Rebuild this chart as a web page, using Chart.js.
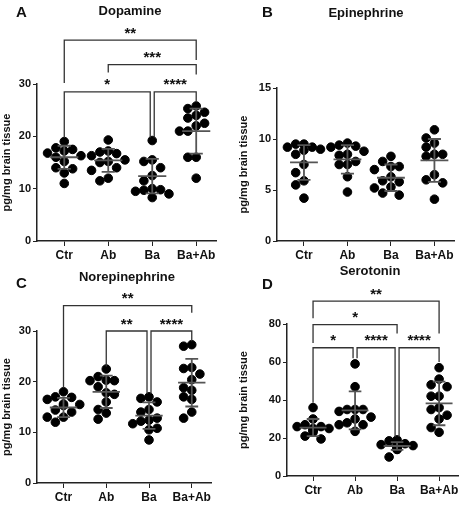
<!DOCTYPE html>
<html>
<head>
<meta charset="utf-8">
<script src="https://cdn.jsdelivr.net/npm/chart.js@4.4.0/dist/chart.umd.min.js"></script>
<style>
  body { margin: 0; background: #fff; font-family: "Liberation Sans", Arial, sans-serif; }
  #wrap { position: relative; width: 474px; height: 508px; }
  canvas { position: absolute; }
  .lbl { position: absolute; font-weight: bold; color: #111; white-space: nowrap; }
  .letter { font-size: 15px; }
  .title { font-size: 13px; transform: translateX(-50%); }
</style>
</head>
<body>
<div id="wrap">
  <canvas id="cA" style="left:0;top:0" width="237" height="266"></canvas>
  <canvas id="cB" style="left:237px;top:0" width="237" height="266"></canvas>
  <canvas id="cC" style="left:0;top:266px" width="237" height="242"></canvas>
  <canvas id="cD" style="left:237px;top:266px" width="237" height="242"></canvas>
  <div class="lbl letter" style="left:16px;top:3px">A</div>
  <div class="lbl title" style="left:130px;top:3px">Dopamine</div>
  <div class="lbl letter" style="left:262px;top:3px">B</div>
  <div class="lbl title" style="left:366px;top:5px">Epinephrine</div>
  <div class="lbl letter" style="left:16px;top:274px">C</div>
  <div class="lbl title" style="left:127px;top:269px">Norepinephrine</div>
  <div class="lbl letter" style="left:262px;top:275px">D</div>
  <div class="lbl title" style="left:370px;top:263px">Serotonin</div>
</div>
<script>
const groups = ["Ctr", "Ab", "Ba", "Ba+Ab"];

// Dopamine (A)
const dopCtr = [19, 17.8, 17.5, 17.2, 16.8, 16.3, 16, 15.2, 14, 13.8, 13, 11];
const dopAb = [19.3, 17.2, 17, 16.7, 16.3, 15.5, 15.2, 15, 14, 13.5, 12, 11.5];
const dopBa = [19.2, 15.5, 15.2, 14, 12.5, 11.5, 10, 9.8, 9.7, 9.5, 9, 8.3];
const dopBaAb = [25.8, 25.3, 24.6, 24, 23.5, 22.5, 22, 21, 21, 16, 16, 12];
const dopMean = [16, 15.4, 12.4, 21];
const dopSd = [2.2, 2.2, 3.3, 4.3];
// [from, to, y, leftEnd, rightEnd, label]
const dopSig = [[0, 3, 38.4, 30.2, 34.6, "**"], [1, 3, 33.7, 32.2, 31.8, "***"],
                [0, 2, 28.5, 19.8, 19.8, "*"], [2, 3, 28.5, 19.8, 26.5, "****"]];

// Epinephrine (B)
const epiCtr = [9.5, 9.5, 9.2, 9.2, 9.0, 8.9, 8.5, 7.5, 6.7, 5.9, 5.5, 4.2];
const epiAb = [9.6, 9.4, 9.3, 9.2, 8.8, 8.5, 8.4, 7.8, 7.5, 7.5, 6.3, 4.8];
const epiBa = [8.3, 7.8, 7.3, 7.3, 7.0, 6.3, 5.9, 5.8, 5.3, 5.2, 4.7, 4.5];
const epiBaAb = [10.9, 10.1, 9.6, 9.2, 8.5, 8.5, 8.3, 6.5, 6.0, 5.7, 4.1];
const epiMean = [7.7, 8.0, 6.2, 7.9];
const epiSd = [1.7, 1.4, 1.3, 2.1];
const epiSig = [];

// Norepinephrine (C)
const norCtr = [18, 17, 16.9, 16.5, 15.6, 15.5, 15.3, 14.4, 14, 13, 13, 12];
const norAb = [22.5, 21, 20.3, 20.2, 20.2, 19, 17.8, 17.5, 16, 14.5, 13.8, 12.6];
const norBa = [17, 16.7, 16, 14.5, 14, 12.8, 12.4, 12.2, 11.7, 10.8, 10.5, 8.5];
const norBaAb = [27.3, 27, 22.8, 22.6, 21.5, 20.4, 18.8, 18.3, 17, 16.5, 14, 12.8];
const norMean = [14.9, 18, 13.3, 19.8];
const norSd = [1.9, 3.2, 2.6, 4.7];
const norSig = [[0, 3, 35, 18.9, 33.6, "**"], [1, 2, 30, 23, 17.6, "**"], [2, 3, 30, 17.6, 28, "****"]];

// Serotonin (D)
const serCtr = [36, 30, 27, 26, 26, 25, 25, 24, 24, 23, 21, 19.5];
const serAb = [59, 47, 35, 35, 35, 34, 31, 30, 28, 27, 27, 23.5];
const serBa = [19, 18.5, 17, 16.5, 16, 16, 15.8, 15.5, 15, 14, 14, 10];
const serBaAb = [57, 51, 48, 47, 42, 42, 36, 35, 32, 30, 25.5, 23];
const serMean = [25.5, 34.5, 15.8, 38.2];
const serSd = [4.5, 10, 2, 11.5];
const serSig = [[0, 3, 92, 83, 75, "**"], [0, 2, 79.7, 70, 75, "*"], [0, 1, 67.5, 38.5, 62, "*"],
                [1, 2, 67.5, 62, 20.5, "****"], [2, 3, 67.5, 20.5, 60, "****"]];

const panels = [
  { id: "cA", sets: [dopCtr, dopAb, dopBa, dopBaAb], mean: dopMean, sd: dopSd, sig: dopSig,
    max: 30, step: 10, top: 84, bottom: 25, axisW: 37, right: 21 },
  { id: "cB", sets: [epiCtr, epiAb, epiBa, epiBaAb], mean: epiMean, sd: epiSd, sig: epiSig,
    max: 15, step: 5, top: 88, bottom: 25, axisW: 40, right: 20 },
  { id: "cC", sets: [norCtr, norAb, norBa, norBaAb], mean: norMean, sd: norSd, sig: norSig,
    max: 30, step: 10, top: 65, bottom: 25, axisW: 37, right: 26 },
  { id: "cD", sets: [serCtr, serAb, serBa, serBaAb], mean: serMean, sd: serSd, sig: serSig,
    max: 80, step: 20, top: 58, bottom: 32, axisW: 50, right: 16 }
];

/* simple beeswarm so close values sit side by side */
function swarm(values, max) {
  const thr = max * 0.058, step = 0.19;
  const placed = [];
  const cand = [0, -1, 1, -2, 2, -0.5, 0.5, -1.5, 1.5];
  return values.map(v => {
    for (const c of cand) {
      const ok = placed.every(p => Math.abs(p.v - v) > thr || Math.abs(p.c - c) >= 1);
      if (ok) { placed.push({ v, c }); return c * step; }
    }
    placed.push({ v, c: 0 });
    return 0;
  });
}

const overlay = {
  id: "overlay",
  afterDatasetsDraw(chart, args, opts) {
    const { ctx, scales: { x, y } } = chart;
    const p = opts.panel;
    ctx.save();
    // mean and SD
    ctx.strokeStyle = "#555";
    ctx.lineWidth = 1.8;
    p.mean.forEach((m, i) => {
      const cx = x.getPixelForValue(i);
      const hw = x.getPixelForValue(i + 0.32) - cx;
      const cw = x.getPixelForValue(i + 0.15) - cx;
      const ym = y.getPixelForValue(m), yh = y.getPixelForValue(m + p.sd[i]), yl = y.getPixelForValue(m - p.sd[i]);
      ctx.beginPath();
      ctx.moveTo(cx - hw, ym); ctx.lineTo(cx + hw, ym);
      ctx.moveTo(cx, yh); ctx.lineTo(cx, yl);
      ctx.moveTo(cx - cw, yh); ctx.lineTo(cx + cw, yh);
      ctx.moveTo(cx - cw, yl); ctx.lineTo(cx + cw, yl);
      ctx.stroke();
    });
    // significance brackets
    ctx.strokeStyle = "#333";
    ctx.lineWidth = 1.3;
    ctx.fillStyle = "#111";
    ctx.font = "bold 15px 'Liberation Sans', Arial";
    ctx.textAlign = "center";
    ctx.textBaseline = "bottom";
    p.sig.forEach(([a, b, yv, l, r, label]) => {
      const gap = 2;
      const xa = x.getPixelForValue(a) + (a > 0 && p.sig.some(s => s[1] === a && s[2] === yv) ? gap : 0);
      const xb = x.getPixelForValue(b) - (p.sig.some(s => s[0] === b && s[2] === yv) ? gap : 0);
      const yy = y.getPixelForValue(yv);
      ctx.beginPath();
      ctx.moveTo(xa, y.getPixelForValue(l));
      ctx.lineTo(xa, yy);
      ctx.lineTo(xb, yy);
      ctx.lineTo(xb, y.getPixelForValue(r));
      ctx.stroke();
      ctx.fillText(label, (xa + xb) / 2, yy + 1);
    });
    ctx.restore();
  }
};

panels.forEach(p => {
  const datasets = p.sets.map((vals, i) => {
    const off = swarm(vals, p.max);
    return {
      data: vals.map((v, k) => ({ x: i + off[k], y: v })),
      backgroundColor: "#000", borderColor: "#000",
      pointRadius: 4.3, pointHoverRadius: 4.3
    };
  });
  new Chart(document.getElementById(p.id), {
    type: "scatter",
    data: { datasets },
    options: {
      responsive: false,
      animation: false,
      layout: { padding: { top: p.top, right: p.right, left: 0, bottom: 0 } },
      plugins: { legend: { display: false }, tooltip: { enabled: false }, overlay: { panel: p } },
      scales: {
        x: {
          type: "linear", min: -0.62, max: 3.45,
          afterBuildTicks: s => { s.ticks = [0, 1, 2, 3].map(v => ({ value: v })); },
          afterFit: s => { s.height = p.bottom; },
          ticks: { callback: v => groups[v], color: "#111", font: { weight: "bold", size: 12 }, padding: 2 },
          grid: { display: true, drawOnChartArea: false, drawTicks: true, tickLength: 5, color: "#222" },
          border: { color: "#222", width: 1.5 }
        },
        y: {
          min: 0, max: p.max,
          ticks: { stepSize: p.step, color: "#111", font: { weight: "bold", size: 11 }, padding: 2 },
          afterFit: s => { s.width = p.axisW; },
          title: { display: true, text: "pg/mg brain tissue", color: "#111", font: { weight: "bold", size: 11 }, padding: 0 },
          grid: { display: true, drawOnChartArea: false, drawTicks: true, tickLength: 4, color: "#222" },
          border: { color: "#222", width: 1.5 }
        }
      }
    },
    plugins: [overlay]
  });
});
</script>
</body>
</html>
